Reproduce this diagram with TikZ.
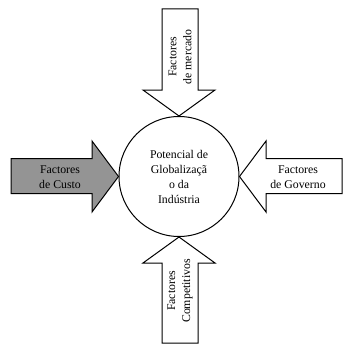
\documentclass[tikz,border=0pt]{standalone}
\usepackage{fontspec}
\setmainfont{Liberation Serif}
\begin{document}
\begin{tikzpicture}[x=1pt,y=-1pt,
  blockarrow/.style={draw=black,line width=1pt,line join=miter,fill=white},
  costarrow/.style={blockarrow,fill=black!42},
  lbl/.style={align=center,inner sep=0pt,font=\fontsize{11.8}{15}\selectfont},
  hub/.style={draw=black,line width=1pt,circle,minimum size=120pt,inner sep=0pt,align=center,font=\fontsize{11.8}{15}\selectfont}]
\useasboundingbox (0,0) rectangle (343,345);

% central circle
\node[hub] (core) at (179,176.5) {Potencial de\\Globalizaçã\\o da\\Indústria};

% block arrows pointing at the circle
\draw[blockarrow] (162,9) -- (198,9) -- (198,90) -- (215,90) -- (core.north) -- (143,90) -- (162,90) -- cycle;
\draw[costarrow] (11,158.5) -- (92,158.5) -- (92,141) -- (core.west) -- (92,212) -- (92,193.5) -- (11,193.5) -- cycle;
\draw[blockarrow] (342,158.5) -- (266,158.5) -- (266,141) -- (core.east) -- (266,212) -- (266,193.5) -- (342,193.5) -- cycle;
\draw[blockarrow] (162,343) -- (162,263) -- (143,263) -- (core.south) -- (215,263) -- (198,263) -- (198,343) -- cycle;

% arrow labels
\node[lbl,rotate=90] (market) at (180,57) {Factores\\de mercado};
\node[lbl] (cost) at (60,177) {Factores\\de Custo};
\node[lbl] (gov) at (298,177) {Factores\\de Governo};
\node[lbl,rotate=90] (comp) at (180,291) {Factores\\Competitivos};
\end{tikzpicture}
\end{document}
